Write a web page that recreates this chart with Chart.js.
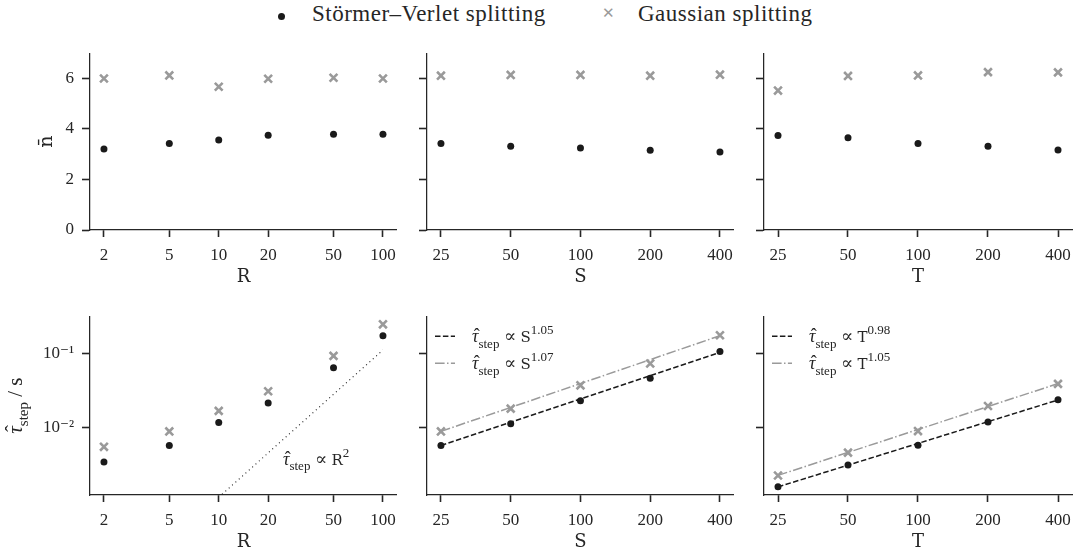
<!DOCTYPE html>
<html>
<head>
<meta charset="utf-8">
<script src="https://cdn.jsdelivr.net/npm/chart.js@4.4.0/dist/chart.umd.min.js"></script>
<style>
    body { margin: 0; background: #fff; width: 1081px; height: 554px; position: relative; overflow: hidden; }
    canvas { position: absolute; }
    .leg { position: absolute; top: 1px; font: 23px "Liberation Serif", serif; color: #262626; white-space: nowrap; letter-spacing: 0.5px; }
    .dot { position: absolute; left: 278px; top: 13px; width: 7px; height: 7px; border-radius: 50%; background: #1a1a1a; }
    .cross { position: absolute; left: 602px; top: 4px; font: bold 15px "DejaVu Sans", sans-serif; color: #9a9a9a; }
    .pre { position: absolute; left: -999px; top: 0; }
</style>
</head>
<body>
<div class="dot"></div>
<div class="leg" style="left:312px">Störmer–Verlet splitting</div>
<div class="cross">✕</div>
<div class="leg" style="left:638px">Gaussian splitting</div>
<span class="pre" style="font-family:'DejaVu Serif'">RST n̄</span>
<span class="pre" style="font-family:'Liberation Serif'">0123 τ step ∝</span>
<span class="pre" style="font-family:'Liberation Serif';font-style:italic">τ</span>

<canvas id="c00"></canvas>
<canvas id="c01"></canvas>
<canvas id="c02"></canvas>
<canvas id="c10"></canvas>
<canvas id="c11"></canvas>
<canvas id="c12"></canvas>

<script>
// values
const rVals = [2, 5, 10, 20, 50, 100];
const sVals = [25, 50, 100, 200, 400];
const tVals = [25, 50, 100, 200, 400];

const nbarR_sv = [3.21, 3.42, 3.56, 3.75, 3.79, 3.79];
const nbarR_gs = [6.00, 6.12, 5.67, 5.99, 6.03, 6.00];
const nbarS_sv = [3.42, 3.32, 3.25, 3.16, 3.09];
const nbarS_gs = [6.11, 6.14, 6.14, 6.11, 6.15];
const nbarT_sv = [3.74, 3.65, 3.42, 3.32, 3.17];
const nbarT_gs = [5.52, 6.10, 6.12, 6.25, 6.24];

const tauR_sv = [0.00337, 0.00564, 0.01164, 0.0213, 0.0644, 0.175];
const tauR_gs = [0.00542, 0.00878, 0.0167, 0.0308, 0.0933, 0.25];
const tauS_sv = [0.00564, 0.0112, 0.0229, 0.0463, 0.107];
const tauS_gs = [0.00878, 0.0179, 0.0371, 0.0733, 0.178];
const tauT_sv = [0.00155, 0.00308, 0.00569, 0.01175, 0.0236];
const tauT_gs = [0.00221, 0.00452, 0.00887, 0.0194, 0.0388];

// fitted power laws (end points) and the R^2 guide line
const fitEnds = [25, 400];
const fitS_sv = [0.00565, 0.104];
const fitS_gs = [0.0088, 0.175];
const fitT_sv = [0.00155, 0.0235];
const fitT_gs = [0.00222, 0.0392];
const guideR = [10, 100];
const guideR_y = [0.00112, 0.112];

const expS = ['1.05', '1.07'];
const expT = ['0.98', '1.05'];
const nbarTicks = [0, 2, 4, 6];
const tauTicks = [0.01, 0.1];
const tauTickLabels = ['10⁻²', '10⁻¹'];

const SERIF = '"Liberation Serif", "DejaVu Serif", serif';
const TT = '"DejaVu Serif", serif';   // stands in for the typewriter face
const INK = '#262626';
const BLACK = '#1a1a1a';
const GREY = '#9a9a9a';

// matplotlib-like 5% margin on a log axis
function logPad(vals) {
    const lo = Math.log10(Math.min(...vals)), hi = Math.log10(Math.max(...vals));
    const m = (hi - lo) * 0.05;
    return { min: Math.pow(10, lo - m), max: Math.pow(10, hi + m) };
}
const tauRange = logPad([].concat(tauR_sv, tauR_gs, tauS_sv, tauS_gs, tauT_sv, tauT_gs));

function pts(xs, ys) { return xs.map((x, i) => ({ x: x, y: ys[i] })); }

function tauParts(size) {
    return [
        { t: 'τ', f: `italic ${size}px ${SERIF}`, hat: size },
        { t: 'step', f: `${Math.round(size * 0.7)}px ${SERIF}`, dy: size * 0.3 }
    ];
}
function propParts(size, v, e) {
    return tauParts(size).concat([
        { t: ' ∝ ', f: `${size}px ${SERIF}` },
        { t: v, f: `${Math.round(size * 0.85)}px ${TT}` },
        { t: e, f: `${Math.round(size * 0.7)}px ${SERIF}`, dy: -size * 0.45 }
    ]);
}

function drawParts(ctx, parts, x, y, align) {
    let w = 0;
    parts.forEach(p => { ctx.font = p.f; w += ctx.measureText(p.t).width; });
    let cx = align === 'center' ? x - w / 2 : x;
    ctx.textAlign = 'left';
    ctx.textBaseline = 'alphabetic';
    parts.forEach(p => {
        ctx.font = p.f;
        const pw = ctx.measureText(p.t).width;
        ctx.fillText(p.t, cx, y + (p.dy || 0));
        if (p.hat) {
            ctx.textAlign = 'center';
            ctx.font = `${p.hat}px ${SERIF}`;
            ctx.fillText('ˆ', cx + pw / 2 + 1.5, y - p.hat * 0.08);
            ctx.textAlign = 'left';
        }
        cx += pw;
    });
}

const panelText = {
    id: 'panelText',
    afterDraw(chart, args, o) {
        const ctx = chart.ctx, a = chart.chartArea;
        ctx.save();
        ctx.fillStyle = INK;
        // x title
        ctx.font = `18px ${TT}`;
        ctx.textAlign = 'center';
        ctx.textBaseline = 'middle';
        ctx.fillText(o.xTitle, (a.left + a.right) / 2, a.bottom + 47);
        // y title
        if (o.yTitle) {
            ctx.save();
            ctx.translate(a.left - o.yTitleOff, (a.top + a.bottom) / 2);
            ctx.rotate(-Math.PI / 2);
            drawParts(ctx, o.yTitle, 0, 0, 'center');
            ctx.restore();
        }
        if (o.note) drawParts(ctx, o.note, a.left + 193, a.bottom - 30, 'left');
        if (o.legend) {
            o.legend.forEach((item, i) => {
                const ds = chart.data.datasets[item.ds];
                const yy = a.top + 20 + i * 27;
                ctx.save();
                ctx.strokeStyle = ds.borderColor;
                ctx.lineWidth = ds.borderWidth;
                ctx.setLineDash(ds.borderDash || []);
                ctx.beginPath();
                ctx.moveTo(a.left + 8, yy);
                ctx.lineTo(a.left + 28, yy);
                ctx.stroke();
                ctx.restore();
                drawParts(ctx, item.parts, a.left + 45, yy + 6, 'left');
            });
        }
        ctx.restore();
    }
};

const cols = [
    { cl: 0, cw: 405, left: 90, right: 398 },
    { cl: 405, cw: 337, left: 427, right: 734 },
    { cl: 742, cw: 339, left: 764, right: 1072 }
];
const rows = [
    { ct: 35, ch: 255, top: 45, bottom: 230 },
    { ct: 298, ch: 256, top: 310, bottom: 495 }
];

function makePanel(id, r, c, xs, datasets, yScale, textOpts) {
    const canvas = document.getElementById(id);
    const col = cols[c], row = rows[r];
    canvas.width = col.cw;
    canvas.height = row.ch;
    canvas.style.left = col.cl + 'px';
    canvas.style.top = row.ct + 'px';
    const xr = logPad(xs);
    const axisCommon = {
        border: { display: true, color: INK, width: 1.25 },
        grid: { drawOnChartArea: false, drawTicks: true, color: INK, tickColor: INK, tickWidth: 1.6 }
    };
    new Chart(canvas.getContext('2d'), {
        type: 'scatter',
        data: { datasets: datasets },
        options: {
            responsive: false,
            animation: false,
            devicePixelRatio: 1,
            layout: { padding: { left: 0, right: col.cl + col.cw - col.right, top: row.top - row.ct, bottom: 0 } },
            plugins: { legend: { display: false }, tooltip: { enabled: false }, panelText: textOpts },
            scales: {
                x: Object.assign({}, axisCommon, {
                    type: 'logarithmic',
                    min: xr.min, max: xr.max,
                    grid: Object.assign({}, axisCommon.grid, { tickLength: 7 }),
                    afterBuildTicks: s => { s.ticks = xs.map(v => ({ value: v })); },
                    afterFit: s => { s.height = row.ct + row.ch - row.bottom; },
                    ticks: { autoSkip: false, maxRotation: 0, padding: 8, color: INK, font: { family: SERIF, size: 17 }, callback: v => String(v) }
                }),
                y: Object.assign({}, axisCommon, yScale, {
                    grid: Object.assign({}, axisCommon.grid, { tickLength: 8 }),
                    afterFit: s => { s.width = col.left - col.cl; }
                })
            }
        },
        plugins: [panelText]
    });
}

function svSet(xs, ys) {
    return { data: pts(xs, ys), pointStyle: 'circle', pointRadius: 3.5, backgroundColor: BLACK, borderWidth: 0, showLine: false };
}
function gsSet(xs, ys) {
    return { data: pts(xs, ys), pointStyle: 'crossRot', pointRadius: 5.5, borderColor: GREY, backgroundColor: GREY, borderWidth: 2.6, showLine: false };
}
function lineSet(xs, ys, color, dash, width) {
    return { data: pts(xs, ys), showLine: true, pointRadius: 0, borderColor: color, borderWidth: width, borderDash: dash, fill: false };
}

function nbarY(showLabels) {
    return {
        type: 'linear', min: 0, max: 7,
        afterBuildTicks: s => { s.ticks = nbarTicks.map(v => ({ value: v })); },
        ticks: { padding: 8, color: INK, font: { family: SERIF, size: 17 }, callback: v => showLabels ? String(v) : '' }
    };
}
function tauY(showLabels) {
    return {
        type: 'logarithmic', min: tauRange.min, max: tauRange.max,
        afterBuildTicks: s => { s.ticks = tauTicks.map(v => ({ value: v })); },
        ticks: { padding: 8, color: INK, font: { family: SERIF, size: 17 },
            callback: (v, i) => showLabels ? tauTickLabels[i] : '' }
    };
}

function drawAll() {
    Chart.defaults.font.family = SERIF;
    const nbarTitle = [{ t: 'n̄', f: `19px ${TT}` }];
    const tauTitle = tauParts(21).concat([{ t: ' / s', f: `21px ${SERIF}` }]);

    makePanel('c00', 0, 0, rVals, [svSet(rVals, nbarR_sv), gsSet(rVals, nbarR_gs)], nbarY(true),
        { xTitle: 'R', yTitle: nbarTitle, yTitleOff: 38 });
    makePanel('c01', 0, 1, sVals, [svSet(sVals, nbarS_sv), gsSet(sVals, nbarS_gs)], nbarY(false),
        { xTitle: 'S' });
    makePanel('c02', 0, 2, tVals, [svSet(tVals, nbarT_sv), gsSet(tVals, nbarT_gs)], nbarY(false),
        { xTitle: 'T' });

    makePanel('c10', 1, 0, rVals, [svSet(rVals, tauR_sv), gsSet(rVals, tauR_gs),
        lineSet(guideR, guideR_y, BLACK, [1, 3.5], 1.1)], tauY(true),
        { xTitle: 'R', yTitle: tauTitle, yTitleOff: 68, note: propParts(18, 'R', '2') });
    makePanel('c11', 1, 1, sVals, [svSet(sVals, tauS_sv), gsSet(sVals, tauS_gs),
        lineSet(fitEnds, fitS_sv, BLACK, [5.5, 2.4], 1.5), lineSet(fitEnds, fitS_gs, GREY, [9.6, 2.4, 1.5, 2.4], 1.5)], tauY(false),
        { xTitle: 'S', legend: [{ ds: 2, parts: propParts(18, 'S', expS[0]) }, { ds: 3, parts: propParts(18, 'S', expS[1]) }] });
    makePanel('c12', 1, 2, tVals, [svSet(tVals, tauT_sv), gsSet(tVals, tauT_gs),
        lineSet(fitEnds, fitT_sv, BLACK, [5.5, 2.4], 1.5), lineSet(fitEnds, fitT_gs, GREY, [9.6, 2.4, 1.5, 2.4], 1.5)], tauY(false),
        { xTitle: 'T', legend: [{ ds: 2, parts: propParts(18, 'T', expT[0]) }, { ds: 3, parts: propParts(18, 'T', expT[1]) }] });
}

Promise.all([
    document.fonts.load('17px "Liberation Serif"'),
    document.fonts.load('italic 17px "Liberation Serif"'),
    document.fonts.load('18px "DejaVu Serif"')
]).then(drawAll, drawAll);
</script>
</body>
</html>
